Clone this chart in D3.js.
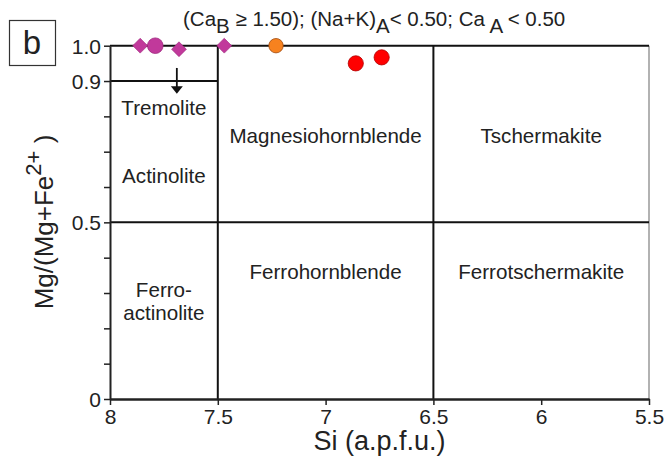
<!DOCTYPE html>
<html>
<head>
<meta charset="utf-8">
<script src="https://cdn.jsdelivr.net/npm/d3@7"></script>
<style>
  body { margin: 0; background: #fff; }
  svg { display: block; }
  text { font-family: "Liberation Sans", Arial, sans-serif; fill: #222; }
</style>
</head>
<body>
<svg id="chart" width="668" height="459"></svg>
<script>
// amphibole classification (Leake) - Si vs Mg/(Mg+Fe2+)
var xTicks = [8, 7.5, 7, 6.5, 6, 5.5];
var yTickLabels = {0: '0', 0.5: '0.5', 0.9: '0.9', 1: '1.0'};

var diamondSi = [7.86, 7.68, 7.47];
var diamondMg = [1.0, 0.99, 1.0];
var purpleSi = [7.79];
var purpleMg = [1.0];
var orangeSi = [7.23];
var orangeMg = [1.0];
var redSi = [6.86, 6.74];
var redMg = [0.95, 0.967];

// field boundaries
var siBounds = [7.5, 6.5];
var mgBound = 0.5;
var tremBound = 0.9;

var fieldNames = ['Tremolite', 'Actinolite', 'Ferro-|actinolite', 'Magnesiohornblende', 'Ferrohornblende', 'Tschermakite', 'Ferrotschermakite'];
var fieldSi = [7.75, 7.75, 7.75, 7.0, 7.0, 6.0, 6.0];
var fieldMg = [0.805, 0.61, 0.29, 0.725, 0.34, 0.725, 0.34];

var svg = d3.select('#chart');
var mLeft = 110, mRight = 649, mTop = 45.7, mBottom = 399;

var x = d3.scaleLinear().domain([8, 5.5]).range([mLeft, mRight]);
var y = d3.scaleLinear().domain([0, 1]).range([mBottom, mTop]);

// panel letter
svg.append('rect')
  .attr('x', 9.5).attr('y', 20.5).attr('width', 46).attr('height', 45)
  .attr('fill', 'none').attr('stroke', '#333').attr('stroke-width', 1.2);
svg.append('text')
  .attr('x', 32).attr('y', 54).attr('text-anchor', 'middle')
  .style('font-size', '33px').text('b');

// title with subscripts
var title = svg.append('text')
  .attr('x', 183).attr('y', 26)
  .style('font-size', '20.5px');
title.append('tspan').text('(Ca');
title.append('tspan').attr('dy', 7).text('B');
title.append('tspan').attr('dy', -7).text(' \u2265 1.50); (Na+K)');
title.append('tspan').attr('dy', 7).text('A');
title.append('tspan').attr('dy', -7).text('< 0.50; Ca ');
title.append('tspan').attr('dy', 7).text('A');
title.append('tspan').attr('dy', -7).text(' < 0.50');

// right border (grey)
svg.append('line')
  .attr('x1', x(5.5)).attr('x2', x(5.5)).attr('y1', y(1)).attr('y2', y(0))
  .attr('stroke', '#999').attr('stroke-width', 1.5);

// field boundaries
var g = svg.append('g').attr('stroke', '#111').attr('stroke-width', 2);
g.append('line').attr('x1', x(8)).attr('x2', x(5.5)).attr('y1', y(1)).attr('y2', y(1));
g.append('line').attr('x1', x(8)).attr('x2', x(5.5)).attr('y1', y(mgBound)).attr('y2', y(mgBound));
g.append('line').attr('x1', x(8)).attr('x2', x(siBounds[0])).attr('y1', y(tremBound)).attr('y2', y(tremBound));
siBounds.forEach(function (s) {
  g.append('line').attr('x1', x(s)).attr('x2', x(s)).attr('y1', y(1)).attr('y2', y(0));
});

// axes
var xAxis = svg.append('g')
  .attr('transform', 'translate(0,' + mBottom + ')')
  .call(d3.axisBottom(x).tickValues(xTicks).tickFormat(d3.format('')).tickSize(6).tickSizeOuter(0).tickPadding(4));
xAxis.select('.domain').attr('stroke', '#222').attr('stroke-width', 2.5);
xAxis.selectAll('.tick line').attr('stroke', '#222').attr('stroke-width', 1.5);
xAxis.selectAll('text').style('font-size', '21px').attr('fill', '#222');

var yAxis = svg.append('g')
  .attr('transform', 'translate(' + mLeft + ',0)')
  .call(d3.axisLeft(y).tickValues(d3.range(0, 11).map(function (d) { return d / 10; }))
    .tickFormat(function (d) { return yTickLabels[Math.round(d * 10) / 10] || ''; })
    .tickSize(6).tickSizeOuter(0).tickPadding(3));
yAxis.select('.domain').attr('stroke', '#222').attr('stroke-width', 2);
yAxis.selectAll('.tick line').attr('stroke', '#222').attr('stroke-width', 1.5);
yAxis.selectAll('text').style('font-size', '21px').attr('fill', '#222').attr('dy', '0.36em');

// axis titles
svg.append('text')
  .attr('x', (mLeft + mRight) / 2).attr('y', 450).attr('text-anchor', 'middle')
  .style('font-size', '27px').text('Si (a.p.f.u.)');

var yt = svg.append('text')
  .attr('transform', 'translate(53,' + 222 + ') rotate(-90)')
  .attr('text-anchor', 'middle')
  .style('font-size', '26px');
yt.append('tspan').text('Mg/(Mg+Fe');
yt.append('tspan').attr('dy', -12).style('font-size', '22px').text('2+');
yt.append('tspan').attr('dy', 12).text(' )');

// field names
fieldNames.forEach(function (name, i) {
  var t = svg.append('text')
    .attr('text-anchor', 'middle')
    .style('font-size', '20.6px');
  name.split('|').forEach(function (part, j) {
    t.append('tspan')
      .attr('x', x(fieldSi[i]))
      .attr('y', y(fieldMg[i]) + j * 23)
      .text(part);
  });
});

// arrow below the 0.9 line
var arrowSi = 7.69;
svg.append('line')
  .attr('x1', x(arrowSi)).attr('x2', x(arrowSi))
  .attr('y1', y(0.937)).attr('y2', y(0.875))
  .attr('stroke', '#111').attr('stroke-width', 1.8);
svg.append('path')
  .attr('d', 'M' + (x(arrowSi) - 6) + ',' + y(0.885) + 'L' + (x(arrowSi) + 6) + ',' + y(0.885) + 'L' + x(arrowSi) + ',' + y(0.864) + 'Z')
  .attr('fill', '#111');

// samples
svg.selectAll('.dia')
  .data(diamondSi)
  .enter().append('path')
  .attr('class', 'dia')
  .attr('transform', function (d, i) { return 'translate(' + x(d) + ',' + y(diamondMg[i]) + ') rotate(45)'; })
  .attr('d', d3.symbol().type(d3.symbolSquare).size(110))
  .attr('fill', '#c1399b').attr('stroke', '#a0287f').attr('stroke-width', 0.6);

function dots(si, mg, r, fill, stroke) {
  svg.append('g').selectAll('circle')
    .data(si)
    .enter().append('circle')
    .attr('cx', function (d) { return x(d); })
    .attr('cy', function (d, i) { return y(mg[i]); })
    .attr('r', r)
    .attr('fill', fill).attr('stroke', stroke).attr('stroke-width', 0.8);
}
dots(purpleSi, purpleMg, 7.8, '#c1399b', '#a0287f');
dots(orangeSi, orangeMg, 7.2, '#f7821f', '#a04a10');
dots(redSi, redMg, 7.6, '#ff0000', '#b00000');
</script>
</body>
</html>
